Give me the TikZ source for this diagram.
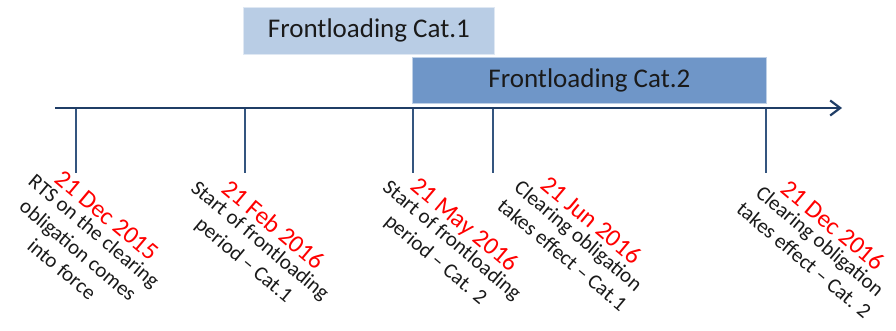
\documentclass[tikz,border=0pt]{standalone}
\usepackage{fontspec}
\setmainfont{Carlito}
\usetikzlibrary{arrows.meta}
\definecolor{axisblue}{HTML}{1F3D66}
\definecolor{tickblue}{HTML}{34557F}
\definecolor{boxone}{HTML}{B9CDE5}
\definecolor{boxtwo}{HTML}{6F96C8}
\definecolor{datered}{HTML}{FF0000}
\definecolor{txt}{HTML}{1A1A1A}
\begin{document}
\begin{tikzpicture}[x=1pt,y=-1pt,
  fl/.style={draw=white!55!#1, line width=0.8pt, fill=#1, text=txt,
    font=\fontsize{27}{32}\selectfont, inner sep=0, anchor=north west},
  datelbl/.style={text=datered, font=\fontsize{25}{30}\selectfont, inner sep=0,
    text height=0.65em, text depth=0.42em, anchor=north west, rotate=-40},
  desclbl/.style={text=txt, font=\fontsize{21}{25}\selectfont, inner sep=0,
    align=center, anchor=north, rotate=-40},
  axisline/.style={draw=axisblue, line width=2.6pt,
    -{Straight Barb[length=10pt,width=15pt,line width=2.2pt]}},
  tickline/.style={draw=tickblue, line width=1.3pt}]
\useasboundingbox (0,0) rectangle (896,331);
% boxes
\node[fl=boxone, minimum width=251pt, minimum height=47pt] (b1) at (243,7) {Frontloading Cat.1};
\node[fl=boxtwo, minimum width=354pt, minimum height=46pt] (b2) at (412,57) {Frontloading Cat.2};
% ticks
\foreach \n/\x in {1/76,2/245,3/413,4/493,5/766}{
  \coordinate (t\n a) at (\x,108);
  \coordinate (t\n b) at (\x,173);
  \draw[tickline] (t\n a) -- (t\n b);
}
% axis
\coordinate (a0) at (55,108);
\coordinate (a1) at (842,108);
\draw[axisline] (a0) -- (a1);
% labels
\node[datelbl] (d1) at (58,176) {21 Dec 2015};
\node[desclbl] (e1) at (d1.south) {RTS on the clearing\\obligation comes\\into force};
\node[datelbl] (d2) at (225,186) {21 Feb 2016};
\node[desclbl] (e2) at (d2.south) {Start of frontloading\\period \textendash{} Cat.1};
\node[datelbl] (d3) at (414,183) {21 May 2016};
\node[desclbl] (e3) at (d3.south) {Start of frontloading\\period \textendash{} Cat. 2};
\node[datelbl] (d4) at (544,182) {21 Jun 2016};
\node[desclbl] (e4) at (d4.south) {Clearing obligation\\takes effect \textendash{} Cat.1};
\node[datelbl] (d5) at (784,186) {21 Dec 2016};
\node[desclbl] (e5) at (d5.south) {Clearing obligation\\takes effect \textendash{} Cat. 2};
\end{tikzpicture}
\end{document}
